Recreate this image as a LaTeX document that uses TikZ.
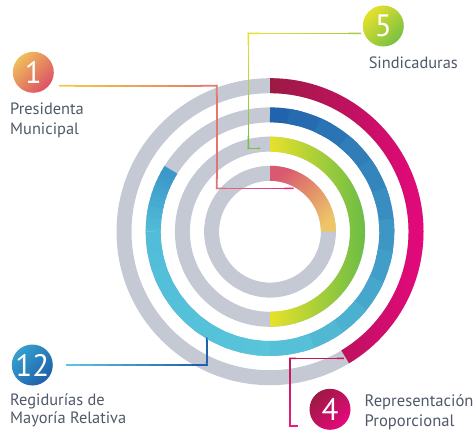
\documentclass[tikz,border=0pt]{standalone}
\usepackage{fontspec}
\setmainfont{PT Sans}
\usetikzlibrary{calc}

\definecolor{ringgray}{HTML}{C4C9D4}
\definecolor{txtgray}{HTML}{4F5968}
\definecolor{crimA}{HTML}{9C1A42}
\definecolor{crimB}{HTML}{E6087E}
\definecolor{bluA}{HTML}{1F5FAA}
\definecolor{bluB}{HTML}{58C5DA}
\definecolor{bluC}{HTML}{52BDD9}
\definecolor{bluD}{HTML}{3A96C8}
\definecolor{ylw}{HTML}{E6E12B}
\definecolor{grn}{HTML}{6BBD45}
\definecolor{rose}{HTML}{D95A70}
\definecolor{ochre}{HTML}{EDC566}
\definecolor{lnYel}{HTML}{F2C846}
\definecolor{lnSal}{HTML}{E77A6C}
\definecolor{lnSalB}{HTML}{E2707A}
\definecolor{lnMag}{HTML}{E0288A}
\definecolor{lnLime}{HTML}{A4CE3F}
\definecolor{lnYelB}{HTML}{E3E22E}
\definecolor{lnGrn}{HTML}{76C044}
\definecolor{lnCyan}{HTML}{5CC3DE}
\definecolor{lnBlue}{HTML}{2160AC}
\definecolor{lnCrim}{HTML}{C2185A}
\definecolor{lnPink}{HTML}{E3207A}

% line in small pieces, colour going from #3 to #4
\newcommand{\gradline}[4]{%
  \foreach \i in {0,...,9}{%
    \pgfmathsetmacro\ta{\i/10}\pgfmathsetmacro\tb{(\i+1)/10}%
    \pgfmathtruncatemacro\mx{100*\i/9}%
    \draw[conn, color=#4!\mx!#3] ($(#1)!\ta!(#2)$) -- ($(#1)!\tb!(#2)$);}}

\begin{document}
\begin{tikzpicture}[x=1pt,y=1pt,
    ring/.style={line width=15pt},
    conn/.style={line width=1.6pt, line cap=rect},
    numcirc/.style={circle, minimum size=41pt, inner sep=0pt, text=white,
                    font=\fontsize{31}{31}\selectfont},
    lbl/.style={text=txtgray, align=left, inner sep=0pt}]
  \useasboundingbox (0,0) rectangle (476,-431);
  \coordinate (c) at (270,-231.7);

  % gray rings
  \foreach \r in {58.4,87.6,116.8,146}
    \draw[ring, ringgray] (c) circle[radius=\r];

  % Presidenta
  \shade[top color=rose, bottom color=ochre, shading angle=45]
    ($(c)+(90:65.9)$) arc[start angle=90, end angle=0, radius=65.9]
    -- ++(-15,0) arc[start angle=0, end angle=90, radius=50.9] -- cycle;

  % Sindicaduras
  \shade[left color=ylw, right color=grn]
    ($(c)+(90:95)$) arc[start angle=90, end angle=-90, radius=95]
    -- ++(0,15) arc[start angle=-90, end angle=90, radius=80] -- cycle;

  % Regidurias
  \foreach \sa/\ea/\ca/\cb in {90/-90/bluA/bluB, -90/-180/bluB/bluC, -180/-212/bluC/bluD}
    \foreach \k in {0,...,11}{
      \pgfmathsetmacro\from{\sa+(\ea-\sa)*max(\k-0.4,0)/12}
      \pgfmathsetmacro\upto{\sa+(\ea-\sa)*(\k+1)/12}
      \pgfmathtruncatemacro\mix{100*(\k+0.5)/12}
      \draw[ring, color=\cb!\mix!\ca] ($(c)+(\from:116.8)$)
        arc[start angle=\from, end angle=\upto, radius=116.8];
    }

  % Representacion
  \shade[left color=crimA, right color=crimB]
    ($(c)+(90:153.5)$) arc[start angle=90, end angle=-59, radius=153.5]
    -- ($(c)+(-59:138.5)$) arc[start angle=-59, end angle=90, radius=138.5] -- cycle;

  % numbers
  \node[numcirc, top color=ochre!90!orange, bottom color=rose!90!red, shading angle=45] (n1) at (33.3,-72.3) {1};
  \node[numcirc, top color=ylw, bottom color=grn!90!ylw, shading angle=45] (n5) at (383.3,-26) {5};
  \node[numcirc, top color=bluD!90!cyan, bottom color=bluA, shading angle=45] (n12) at (32.3,-365) {12};
  \node[numcirc, top color=crimA, bottom color=crimB, shading angle=45] (n4) at (330,-409.3) {4};

  % labels
  \node[lbl, anchor=north west, font=\fontsize{16.4}{20}\selectfont] (t1) at (10,-102.5) {Presidenta\\Municipal};
  \node[lbl, anchor=base, font=\fontsize{16.4}{20}\selectfont] (t5) at (413.3,-68.3) {Sindicaduras};
  \node[lbl, anchor=north west, font=\fontsize{16.4}{18}\selectfont] (t12) at (10,-393) {Regidurías de\\Mayoría Relativa};
  \node[lbl, anchor=north west, font=\fontsize{16.6}{20}\selectfont] (t4) at (364.5,-394.5) {Representación\\Proporcional};

  % connectors
  \coordinate (p1a) at ([shift={(6,-13.4)}]n1.east);
  \coordinate (p1b) at (216.7,-85.7);
  \coordinate (p1c) at (216.7,-188.3);
  \coordinate (p1d) at (292.7,-188.3);
  \gradline{p1a}{p1b}{lnYel}{lnSal}
  \gradline{p1b}{p1c}{lnSal}{lnSalB}
  \gradline{p1c}{p1d}{lnSalB}{lnMag}

  \coordinate (p5a) at ([shift={(-2.3,-7.3)}]n5.west);
  \coordinate (p5b) at (248.3,-33.3);
  \coordinate (p5c) at (248.3,-148.3);
  \coordinate (p5d) at (259.3,-148.3);
  \gradline{p5a}{p5b}{lnLime}{lnYelB}
  \gradline{p5b}{p5c}{lnYelB}{lnGrn}
  \gradline{p5c}{p5d}{lnGrn}{lnGrn}

  \coordinate (p12a) at ([xshift=13.7]n12.east);
  \coordinate (p12b) at (206.7,-365);
  \coordinate (p12c) at (206.7,-338.5);
  \gradline{p12a}{p12b}{lnCyan}{lnBlue}
  \gradline{p12b}{p12c}{lnBlue}{lnBlue}

  \coordinate (p4a) at (343,-358.3);
  \coordinate (p4b) at (290,-358.3);
  \coordinate (p4c) at (290,-426);
  \coordinate (p4d) at (297.3,-426);
  \gradline{p4a}{p4b}{lnCrim}{lnCrim}
  \gradline{p4b}{p4c}{lnCrim}{lnPink}
  \gradline{p4c}{p4d}{lnPink}{lnPink}
\end{tikzpicture}
\end{document}
